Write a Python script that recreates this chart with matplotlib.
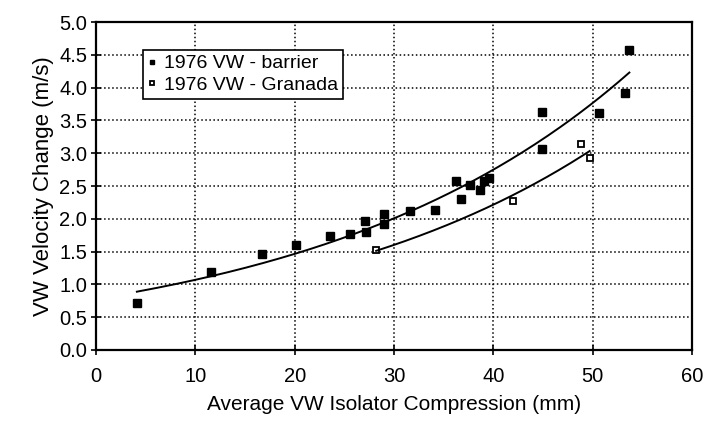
import numpy as np
import matplotlib
matplotlib.use('Agg')
from matplotlib import pyplot as plt

plt.rcParams['font.family'] = ['Liberation Sans', 'DejaVu Sans']

# 1976 VW - barrier
barrier_x = [4.1, 11.6, 16.7, 20.1, 23.6, 25.6, 27.2, 27.1, 29.0, 29.0, 31.6, 34.1,
             36.2, 36.7, 37.7, 38.7, 39.1, 39.6, 44.9, 44.9, 50.6, 53.3, 53.7]
barrier_y = [0.72, 1.19, 1.47, 1.60, 1.74, 1.77, 1.80, 1.97, 1.92, 2.08, 2.12, 2.14,
             2.57, 2.30, 2.52, 2.44, 2.58, 2.63, 3.63, 3.07, 3.62, 3.92, 4.57]

# 1976 VW - Granada
granada_x = [28.2, 42.0, 48.8, 49.7]
granada_y = [1.53, 2.27, 3.14, 2.93]

xticks = [0, 10, 20, 30, 40, 50, 60]
yticks = [0.0, 0.5, 1.0, 1.5, 2.0, 2.5, 3.0, 3.5, 4.0, 4.5, 5.0]


def exp_trend(x, y):
    # excel style exponential trendline (fit on log y)
    b, a = np.polyfit(x, np.log(y), 1)
    xs = np.linspace(min(x), max(x), 200)
    return xs, np.exp(a) * np.exp(b * xs)


fig = plt.figure(figsize=(7.23, 4.43), dpi=100)
ax = fig.add_axes([0.133, 0.21, 0.824, 0.74])

ax.plot(barrier_x, barrier_y, 's', color='black', markersize=5.5, label='1976 VW - barrier')
ax.plot(granada_x, granada_y, 's', markerfacecolor='white', markeredgecolor='black',
        markeredgewidth=1.3, markersize=5, label='1976 VW - Granada')

tx, ty = exp_trend(barrier_x, barrier_y)
ax.plot(tx, ty, color='black', linewidth=1.4)
tx, ty = exp_trend(granada_x, granada_y)
ax.plot(tx, ty, color='black', linewidth=1.4)

ax.set_xlim(0, 60)
ax.set_ylim(0, 5)
ax.set_xticks(xticks)
ax.set_yticks(yticks)
ax.set_yticklabels(['%.1f' % v for v in yticks])
ax.tick_params(direction='inout', length=7, width=1.2, labelsize=14.5, colors='black')
ax.tick_params(axis='x', pad=9)
ax.tick_params(axis='y', pad=3)
ax.grid(True, linestyle=':', color='black', linewidth=1.1)
for s in ax.spines.values():
    s.set_linewidth(1.6)
    s.set_color('black')

ax.set_xlabel('Average VW Isolator Compression (mm)', fontsize=15, labelpad=6)
ax.set_ylabel('VW Velocity Change (m/s)', fontsize=16, labelpad=4)

leg = ax.legend(loc='upper left', bbox_to_anchor=(0.078, 0.915), fontsize=14,
                frameon=True, fancybox=False, edgecolor='black', framealpha=1,
                handlelength=0.5, handletextpad=0.35, markerscale=0.55,
                borderpad=0.25, labelspacing=0.2, borderaxespad=0)
leg.get_frame().set_linewidth(1.2)

plt.savefig('out.png', dpi=100)
